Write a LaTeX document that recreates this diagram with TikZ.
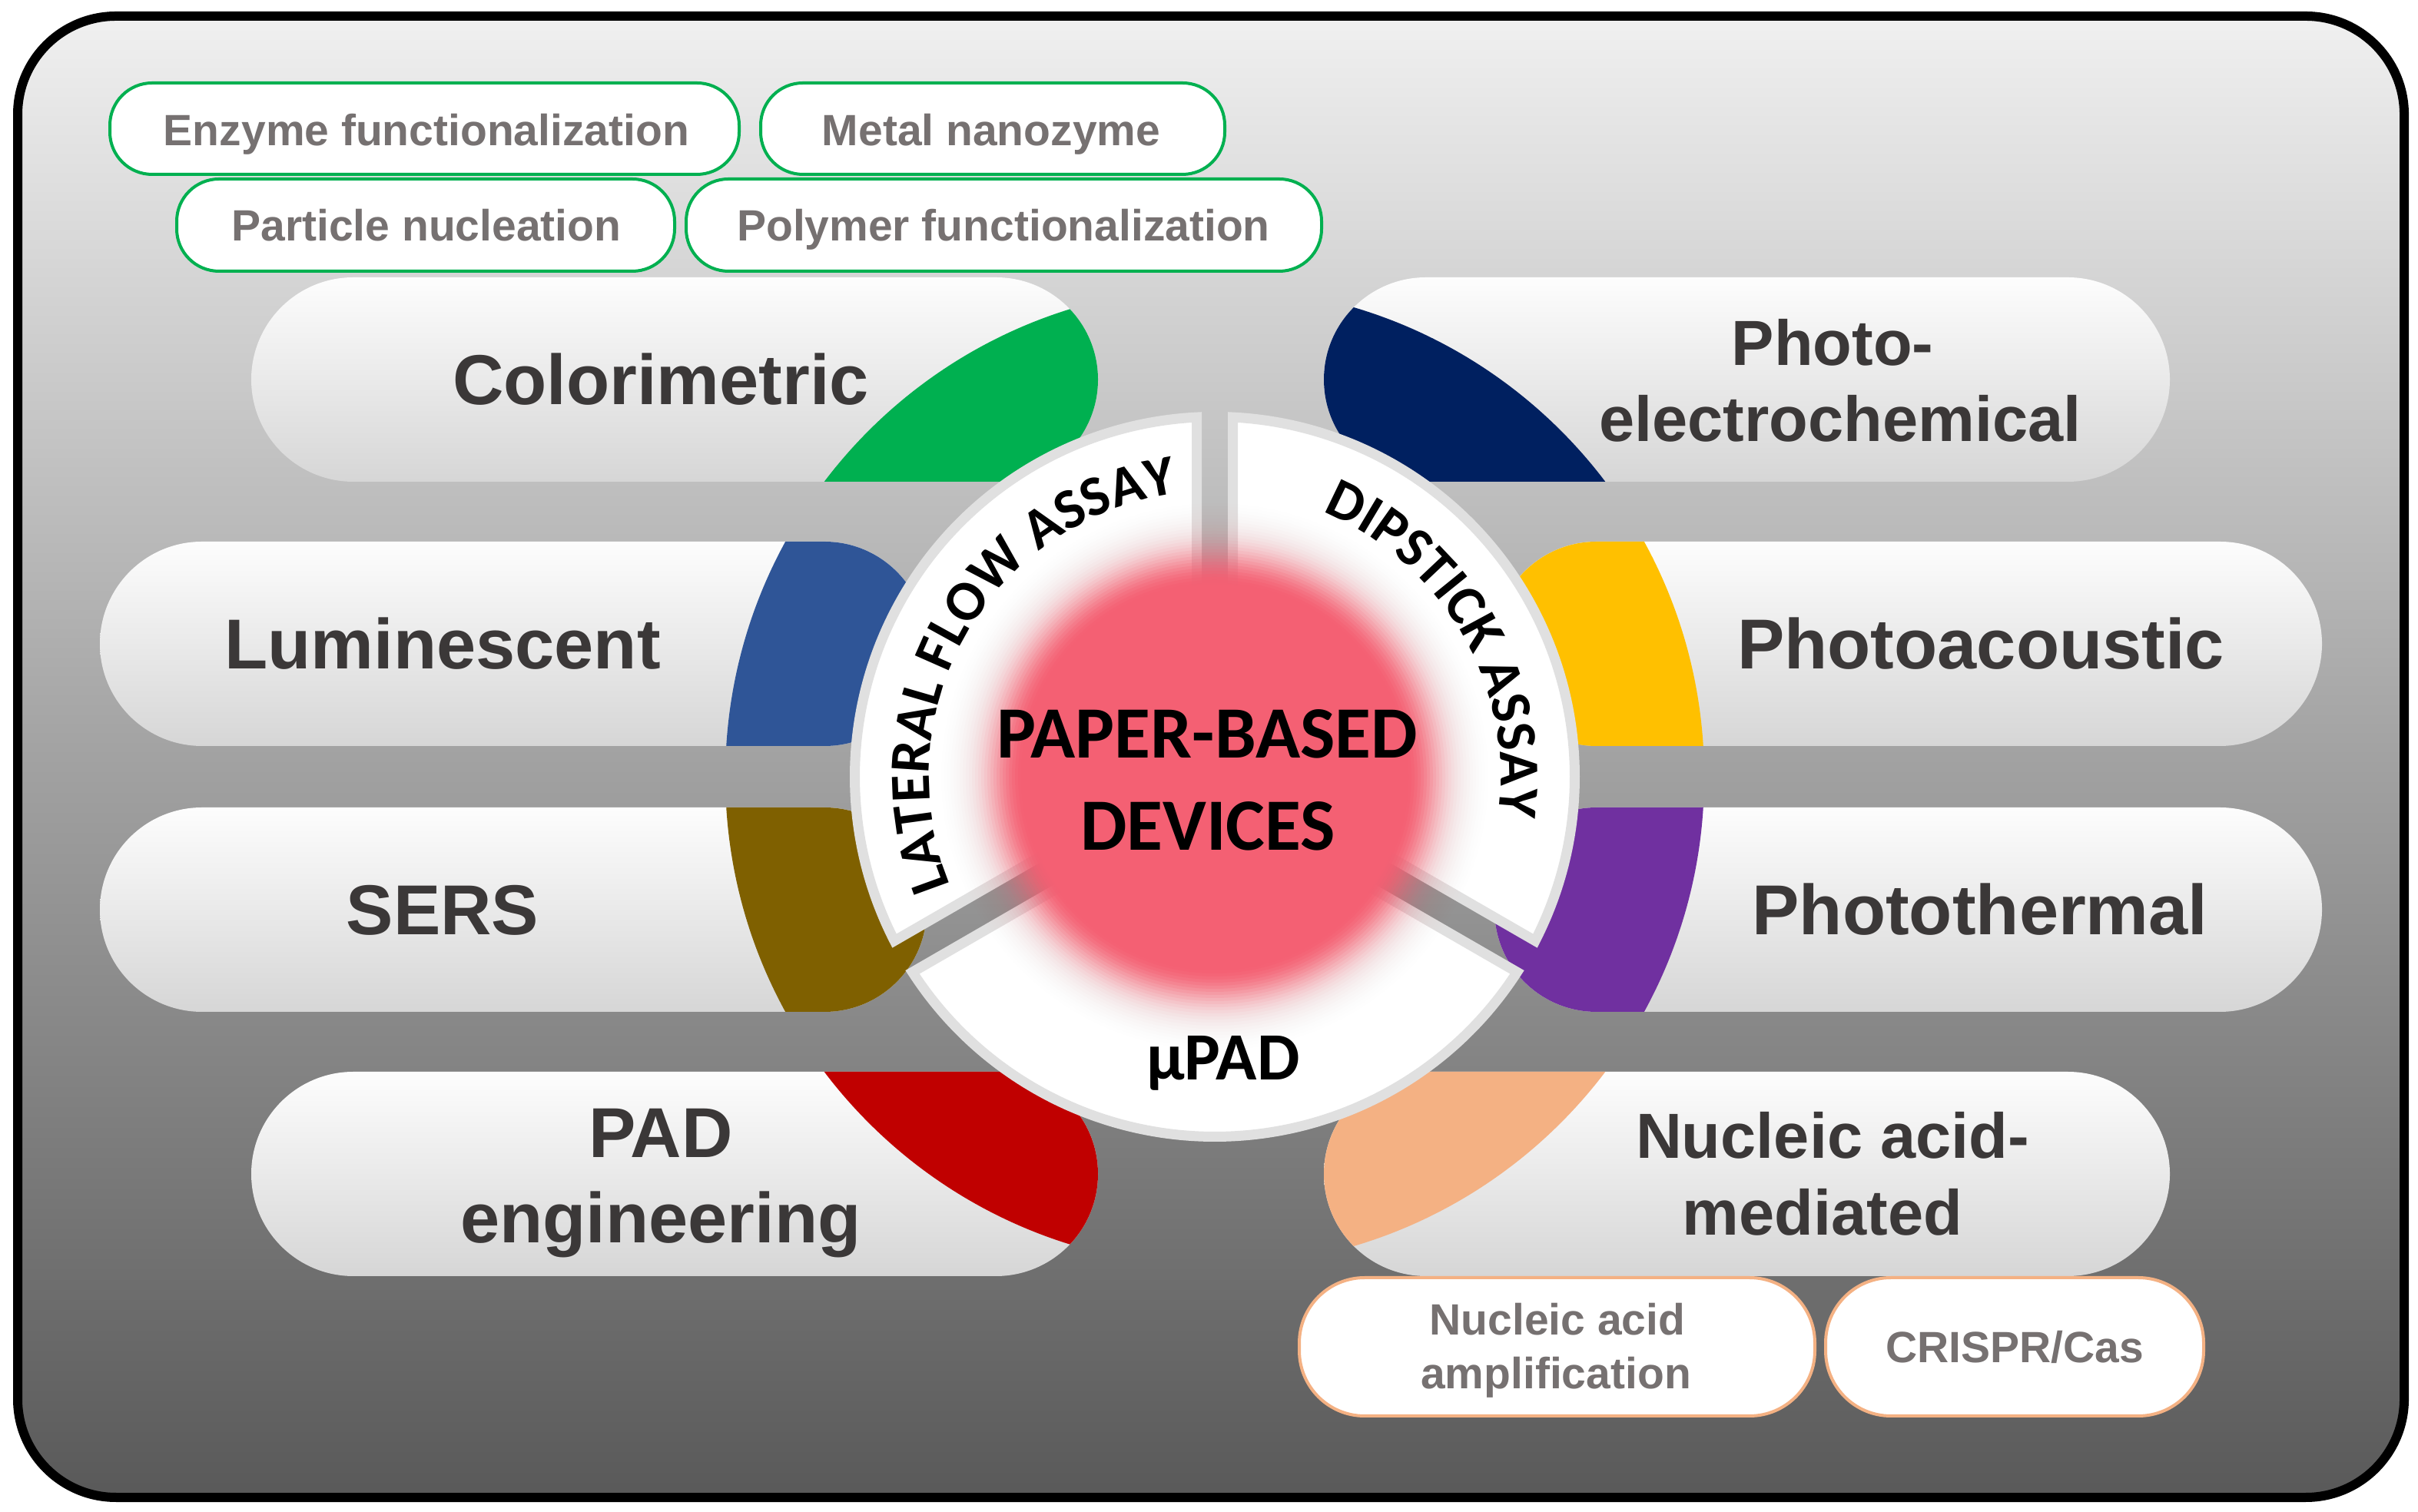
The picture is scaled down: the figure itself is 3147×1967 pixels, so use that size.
\documentclass[tikz,border=0pt]{standalone}
\usepackage{fontspec}
\setmainfont{Liberation Sans}
\newfontfamily\lsans{Liberation Sans}
\newfontfamily\carl{Carlito}
\usetikzlibrary{calc,decorations.text}
\definecolor{cgreen}{HTML}{00B050}
\definecolor{cnavy}{HTML}{002060}
\definecolor{cblue}{HTML}{2F5597}
\definecolor{cyellow}{HTML}{FFC000}
\definecolor{colive}{HTML}{7F6000}
\definecolor{cpurple}{HTML}{7030A0}
\definecolor{cred}{HTML}{C00000}
\definecolor{cpeach}{HTML}{F4B183}
\definecolor{maintext}{HTML}{3B3838}
\definecolor{subgray}{HTML}{767171}
\definecolor{pilltop}{HTML}{FDFDFD}
\definecolor{pillbot}{HTML}{D6D6D6}
\definecolor{bgtop}{HTML}{F0F0F0}
\definecolor{bgmid}{HTML}{A2A2A2}
\definecolor{bgbot}{HTML}{595959}
\definecolor{segborder}{HTML}{E0E0E0}
\definecolor{glowred}{HTML}{F46073}
\newcommand\arcfnt{\carl\bfseries\fontsize{74}{74}\selectfont}
\begin{document}
\begin{tikzpicture}[x=1pt,y=1pt,
  pillshade/.style={top color=pilltop, bottom color=pillbot, rounded corners=133pt},
  subgreen/.style={fill=white, draw=cgreen, line width=4pt, rounded corners=55pt},
  subpeach/.style={fill=white, draw=cpeach, line width=4pt, rounded corners=85pt},
  seg/.style={fill=white, draw=segborder, line width=13pt, line join=miter},
  pilltext/.style={font=\lsans\bfseries\fontsize{92}{100}\selectfont, text=maintext, anchor=base, inner sep=0pt},
  pilltextsm/.style={pilltext, font=\lsans\bfseries\fontsize{83}{90}\selectfont},
  subtext/.style={font=\lsans\bfseries\fontsize{57}{68}\selectfont, text=subgray, anchor=base, inner sep=0pt},
  centertext/.style={font=\carl\bfseries\fontsize{96}{100}\selectfont, text=black, anchor=base, inner sep=0pt},
  mutext/.style={font=\carl\bfseries\fontsize{88}{90}\selectfont, text=black, anchor=base, inner sep=0pt}
]
\useasboundingbox (0,0) rectangle (3147,1967);
% frame
\shade[top color=bgtop, bottom color=bgbot, middle color=bgmid, rounded corners=128pt] (23,18) rectangle (3129,1946);
\draw[black, line width=12pt, rounded corners=128pt] (23,18) rectangle (3129,1946);
\coordinate (C) at (1581,956);
% pills
\shade[pillshade] (327,1340) rectangle (1429,1606);
\shade[pillshade] (130,996) rectangle (1206,1262);
\shade[pillshade] (130,650) rectangle (1206,916);
\shade[pillshade] (327,306) rectangle (1429,572);
\shade[pillshade] (1723,1340) rectangle (2824,1606);
\shade[pillshade] (1945,996) rectangle (3022,1262);
\shade[pillshade] (1945,650) rectangle (3022,916);
\shade[pillshade] (1723,306) rectangle (2824,572);
% coloured parts
\begin{scope}
\clip (C) circle[radius=637];
\fill[cgreen, rounded corners=133pt] (327,1340) rectangle (1429,1606);
\fill[cblue, rounded corners=133pt] (130,996) rectangle (1206,1262);
\fill[colive, rounded corners=133pt] (130,650) rectangle (1206,916);
\fill[cred, rounded corners=133pt] (327,306) rectangle (1429,572);
\fill[cnavy, rounded corners=133pt] (1723,1340) rectangle (2824,1606);
\fill[cyellow, rounded corners=133pt] (1945,996) rectangle (3022,1262);
\fill[cpurple, rounded corners=133pt] (1945,650) rectangle (3022,916);
\fill[cpeach, rounded corners=133pt] (1723,306) rectangle (2824,572);
\end{scope}
% white segments
\path[seg] ($(C)+(150:27.1)$) -- ($(C)+(92.875:468.5)$) arc[start angle=92.875, end angle=207.125, radius=468.5] -- cycle;
\path[seg] ($(C)+(30:27.1)$) -- ($(C)+(-27.125:468.5)$) arc[start angle=-27.125, end angle=87.125, radius=468.5] -- cycle;
\path[seg] ($(C)+(270:27.1)$) -- ($(C)+(212.875:468.5)$) arc[start angle=212.875, end angle=327.125, radius=468.5] -- cycle;
% glow
\foreach \r in {364,360,...,252} {
  \pgfmathsetmacro\oa{exp(-((\r-250)/48)^2)}
  \pgfmathsetmacro\ob{exp(-((\r+4-250)/48)^2)}
  \pgfmathsetmacro\aa{1-(1-\oa)/(1-\ob)}
  \fill[glowred, fill opacity=\aa] (C) circle[radius=\r];
}
\fill[glowred] (C) circle[radius=250];
% arc texts
\path[decorate, decoration={text along path, text={|\arcfnt|LATERAL FLOW ASSAY}, text align=center}] ($(C)+(207:372)$) arc[start angle=207, end angle=93, radius=372];
\path[decorate, decoration={text along path, text={|\arcfnt|DIPSTICK ASSAY}, text align=center}] ($(C)+(87:372)$) arc[start angle=87, end angle=-27, radius=372];
% centre texts
\node[centertext] (pb) at (1571,980) {PAPER-BASED};
\node[centertext] (dev) at (1572,860) {DEVICES};
\node[mutext] (mu) at (1592,561) {µPAD};
% main pill texts
\node[pilltext] (colt) at (860,1440) {Colorimetric};
\node[pilltext] (lumt) at (576,1096) {Luminescent};
\node[pilltext] (serst) at (576,750) {SERS};
\node[pilltext] (padt1) at (860,460) {PAD};
\node[pilltext] (padt2) at (860,349) {engineering};
\node[pilltextsm] (pect1) at (2385,1491) {Photo-};
\node[pilltextsm] (pect2) at (2395,1392) {electrochemical};
\node[pilltext] (pact) at (2578,1096) {Photoacoustic};
\node[pilltext] (ptht) at (2577,750) {Photothermal};
\node[pilltextsm] (nat1) at (2385,459) {Nucleic acid-};
\node[pilltextsm] (nat2) at (2372,359) {mediated};
% green sub-labels
\path[subgreen] (143,1740) rectangle (962,1859);
\path[subgreen] (990,1740) rectangle (1594,1859);
\path[subgreen] (230,1614) rectangle (878,1734);
\path[subgreen] (893,1614) rectangle (1720,1734);
\node[subtext] (enz) at (555,1777) {Enzyme functionalization};
\node[subtext] (met) at (1290,1777) {Metal nanozyme};
\node[subtext] (par) at (555,1653) {Particle nucleation};
\node[subtext] (pol) at (1306,1653) {Polymer functionalization};
% peach sub-labels
\path[subpeach] (1691,124) rectangle (2362,304);
\path[subpeach] (2376,124) rectangle (2868,304);
\node[subtext] (naa1) at (2027,229) {Nucleic acid};
\node[subtext] (naa2) at (2025,159) {amplification};
\node[subtext] (cri) at (2622,193) {CRISPR/Cas};
\end{tikzpicture}
\end{document}
